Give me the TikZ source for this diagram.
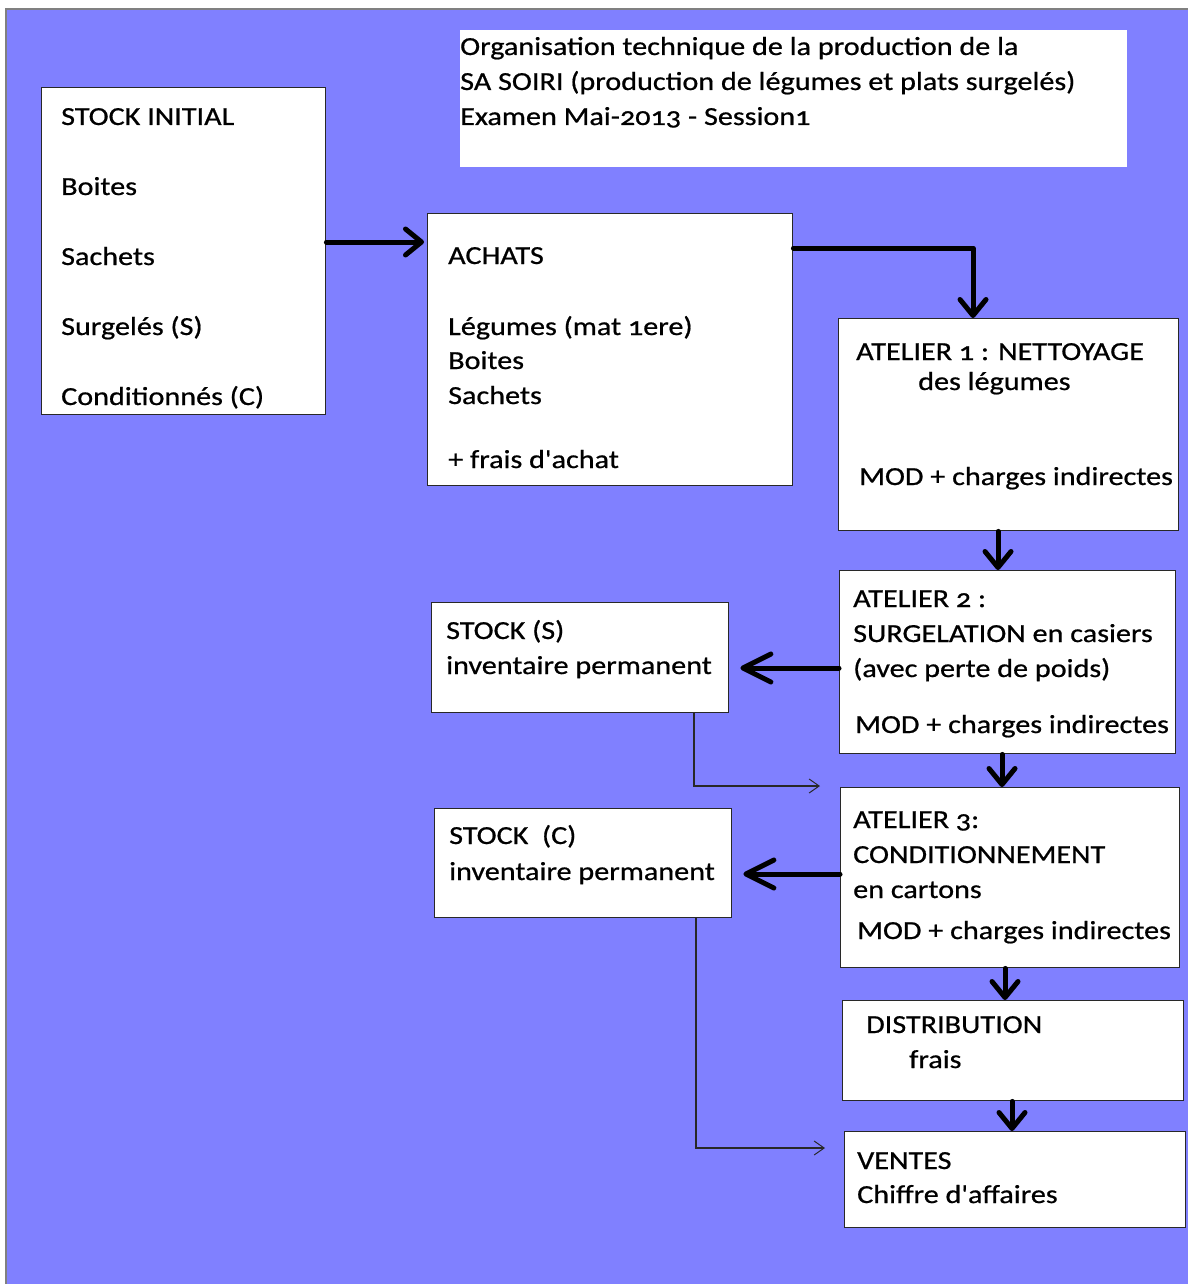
\documentclass[tikz,border=0pt]{standalone}
\usepackage{fontspec}
\setmainfont{Carlito}[Numbers=OldStyle,Ligatures=TeXOff,FakeStretch=1.16,FakeBold=0.7]
\usetikzlibrary{arrows.meta}
\definecolor{bgblue}{RGB}{128,128,255}
\definecolor{frame}{RGB}{40,40,40}
\begin{document}
\begin{tikzpicture}[x=1pt,y=-1pt,
  box/.style={draw=frame, line width=1.4pt, fill=white, inner sep=0pt, anchor=north west},
  txt/.style={anchor=base west, inner sep=0pt, font=\fontsize{26}{31}\selectfont},
  thickarr/.style={line width=5pt, line cap=round, line join=round,
    -{Straight Barb[round,length=16pt,width=26pt]}},
  sidearr/.style={line width=5pt, line cap=round, line join=round, shorten >=11pt,
    -{Straight Barb[round,length=28pt,width=28pt]}},
  thinarr/.style={draw=frame, line width=1.3pt, -{Straight Barb[length=10pt,width=14pt,line width=1pt]}}]
\useasboundingbox (0,0) rectangle (1188,1284);
\fill[white] (0,0) rectangle (1188,1284);
\fill[bgblue] (6,9) rectangle (1188,1284);
\draw[gray, line width=1.2pt] (6,1284) -- (6,9) -- (1188,9);

% title
\node[box, draw=none, minimum width=667pt, minimum height=137pt] (title) at (459,29) {};
\node[txt] (t1) at (460,55) {Organisation technique de la production de la};
\node[txt] (t2) at (460,90) {SA SOIRI (production de légumes et plats surgelés)};
\node[txt] (t3) at (460,125) {Examen Mai-2013 - Session1};

% stock initial
\node[box, minimum width=284pt, minimum height=327pt] (si) at (41,87) {};
\node[txt] (si1) at (61,125) {STOCK INITIAL};
\node[txt] (si2) at (61,195) {Boites};
\node[txt] (si3) at (61,265) {Sachets};
\node[txt] (si4) at (61,335) {Surgelés (S)};
\node[txt] (si5) at (61,405) {Conditionnés (C)};

% achats
\node[box, minimum width=365pt, minimum height=272pt] (ach) at (427,213) {};
\node[txt] (ac1) at (448,264) {ACHATS};
\node[txt] (ac2) at (448,335) {Légumes (mat 1ere)};
\node[txt] (ac3) at (448,369) {Boites};
\node[txt] (ac4) at (448,404) {Sachets};
\node[txt] (ac5) at (448,468) {+ frais d'achat};

% atelier 1
\node[box, minimum width=340pt, minimum height=212pt] (a1) at (838,318) {};
\node[txt] (a11) at (856,360) {ATELIER 1 : NETTOYAGE};
\node[txt] (a12) at (918,390) {des légumes};
\node[txt] (a13) at (859,485) {MOD + charges indirectes};

% atelier 2
\node[box, minimum width=336pt, minimum height=183pt] (a2) at (839,570) {};
\node[txt] (a21) at (853,607) {ATELIER 2 :};
\node[txt] (a22) at (853,642) {SURGELATION en casiers};
\node[txt] (a23) at (853,677) {(avec perte de poids)};
\node[txt] (a24) at (855,733) {MOD + charges indirectes};

% stock S
\node[box, minimum width=297pt, minimum height=110pt] (ss) at (431,602) {};
\node[txt] (ss1) at (446,639) {STOCK (S)};
\node[txt] (ss2) at (446,674) {inventaire permanent};

% atelier 3
\node[box, minimum width=339pt, minimum height=180pt] (a3) at (840,787) {};
\node[txt] (a31) at (853,828) {ATELIER 3:};
\node[txt] (a32) at (853,863) {CONDITIONNEMENT};
\node[txt] (a33) at (853,898) {en cartons};
\node[txt] (a34) at (857,939) {MOD + charges indirectes};

% stock C
\node[box, minimum width=297pt, minimum height=109pt] (sc) at (434,808) {};
\node[txt] (sc1) at (449,844) {STOCK\ \ (C)};
\node[txt] (sc2) at (449,880) {inventaire permanent};

% distribution
\node[box, minimum width=341pt, minimum height=100pt] (di) at (842,1000) {};
\node[txt] (di1) at (866,1033) {DISTRIBUTION};
\node[txt] (di2) at (909,1068) {frais};

% ventes
\node[box, minimum width=341pt, minimum height=96pt] (ve) at (844,1131) {};
\node[txt] (ve1) at (857,1169) {VENTES};
\node[txt] (ve2) at (857,1203) {Chiffre d'affaires};

% thick connectors
\draw[thickarr, shorten >=3pt] (si.east |- 0,242) -- (ach.west |- 0,242);
\draw[thickarr] (ach.east |- 0,248) -| (a1.north -| 973,0);
\draw[thickarr] (a1.south -| 998,0) -- (a2.north -| 998,0);
\draw[sidearr] (a2.west |- 0,668) -- (ss.east |- 0,668);
\draw[thickarr] (a2.south -| 1002,0) -- (a3.north -| 1002,0);
\draw[sidearr] (a3.west |- 0,874) -- (sc.east |- 0,874);
\draw[thickarr] (a3.south -| 1005,0) -- (di.north -| 1005,0);
\draw[thickarr] (di.south -| 1012,0) -- (ve.north -| 1012,0);

% thin connectors
\coordinate (e1) at (820,786);
\coordinate (e2) at (825,1148);
\draw[thinarr] (ss.south -| 694,0) |- (e1);
\draw[thinarr] (sc.south -| 696,0) |- (e2);
\end{tikzpicture}
\end{document}
